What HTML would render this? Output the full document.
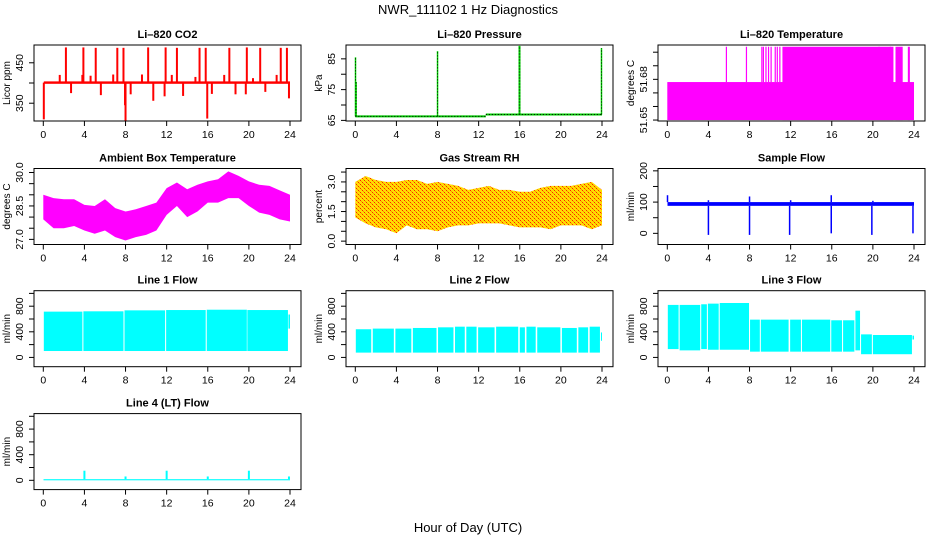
<!DOCTYPE html>
<html><head><meta charset="utf-8">
<style>
html,body{margin:0;padding:0;background:#fff;}
svg{display:block;font-family:"Liberation Sans",Arial,sans-serif;}
</style></head>
<body>
<svg id="c" width="936" height="540" viewBox="0 0 936 540">
<defs>
<pattern id="rhpat" width="4" height="4" patternUnits="userSpaceOnUse">
<rect width="4" height="4" fill="#ffdd00"/>
<rect x="0" y="0" width="1" height="1" fill="#ff2000"/>
<rect x="2" y="2" width="1" height="1" fill="#ff2000"/>
<rect x="1" y="1" width="1" height="1" fill="#ff9000"/>
<rect x="3" y="3" width="1" height="1" fill="#ff9000"/>
</pattern>
</defs>
<text x="468" y="14" text-anchor="middle" font-size="13">NWR_111102  1 Hz Diagnostics</text>
<text x="468" y="532" text-anchor="middle" font-size="13">Hour of Day (UTC)</text>
</svg>
<script>
// ---------- data ----------
var xTicks = [0,4,8,12,16,20,24];
// CO2
var co2Base = 401;
var co2SpikeHours = [0.05,1.6,2.2,2.7,3.8,3.9,4.6,5.1,5.6,6.8,7.2,7.8,7.95,8.0,8.5,9.6,10.2,10.7,11.8,11.9,12.5,13.0,13.6,14.8,15.2,15.8,15.95,16.4,17.6,18.1,18.7,19.7,19.8,20.4,21.1,21.6,22.7,23.1,23.7,23.9];
var co2SpikeVals  = [310,420,488,375,420,488,418,487,370,421,487,487,345,305,372,421,488,356,367,488,420,487,368,415,487,487,312,373,420,487,372,372,488,412,487,378,420,487,487,362];
// Pressure
var presSegStart = [0,12.7];
var presSegEnd   = [12.7,24];
var presSegVal   = [66.3,66.9];
var presSpikeHours = [0.02,0.08,8.0,15.95,16.0,23.95];
var presSpikeVals  = [85.5,77.5,87.5,89.2,89.2,88.5];
// Li-820 temperature
var tempLow = 51.65, tempMid = 51.678, tempHigh = 51.704;
var tempBlockStart = [11.2,22.2,23.4];
var tempBlockEnd   = [22.0,22.9,23.6];
var tempLineHours  = [5.75,7.7,9.2,9.35,9.6,9.85,10.1,10.5,10.7,10.95,20.6,21.7];
// Ambient box temperature (hourly envelope)
var ambHours = [0,1,2,3,4,5,6,7,8,9,10,11,12,13,14,15,16,17,18,19,20,21,22,23,24];
var ambUpper = [29.0,28.85,28.8,28.8,28.55,28.5,28.8,28.4,28.25,28.35,28.5,28.65,29.3,29.55,29.25,29.45,29.6,29.7,30.05,29.85,29.6,29.45,29.4,29.2,29.0];
var ambLower = [27.9,27.5,27.5,27.6,27.4,27.25,27.4,27.1,26.95,27.1,27.2,27.4,28.1,28.5,28.0,28.25,28.65,28.65,28.85,28.85,28.5,28.2,28.1,27.9,27.8];
// Gas stream RH
var rhHours = [0,1,2,3,4,5,6,7,8,9,10,11,12,13,14,15,16,17,18,19,20,21,22,23,24];
var rhUpper = [3.0,3.3,3.1,3.0,3.0,3.1,3.1,2.9,3.0,2.9,2.8,2.6,2.7,2.8,2.6,2.6,2.5,2.5,2.7,2.8,2.8,2.8,2.9,3.0,2.6];
var rhLower = [1.2,0.9,0.7,0.6,0.4,0.8,0.6,0.6,0.5,0.7,0.8,0.8,0.9,0.9,0.9,0.8,0.7,0.7,0.7,0.6,0.8,0.8,0.8,0.6,0.8];
// Sample flow
var sfLow = 88, sfHigh = 100;
var sfDipHours = [4.0,8.0,11.9,15.95,19.9,23.9];
var sfDipVals  = [-5,-5,-5,0,-5,0];
var sfSpikeHours = [0.02,8.0,15.95,4.0,12.0,20.0];
var sfSpikeVals  = [122,118,122,106,106,104];
// Line 1 flow
var l1Start = [0.05,3.9,7.9,11.95,15.9,19.85,23.85];
var l1End   = [3.8,7.8,11.85,15.8,19.8,23.8,24.0];
var l1Low   = [100,100,100,100,100,100,450];
var l1High  = [715,720,735,740,745,740,670];
// Line 2 flow
var l2Start = [0.05,1.7,3.9,5.6,8.05,9.7,10.8,11.95,13.7,16.0,16.65,17.7,20.1,21.7,22.8,23.9];
var l2End   = [1.55,3.75,5.45,7.9,9.55,10.65,11.8,13.55,15.85,16.5,17.55,19.95,21.55,22.65,23.8,24.0];
var l2Low   = [75,75,75,75,75,75,75,75,75,75,75,75,75,75,75,260];
var l2High  = [440,450,450,460,470,480,480,470,480,470,480,470,460,470,480,390];
// Line 3 flow
var l3Start = [0.05,1.2,3.3,3.95,5.1,8.05,9.1,11.95,13.1,15.95,17.1,18.3,18.85,20.0,23.85];
var l3End   = [1.1,3.2,3.85,5.0,7.95,9.0,11.8,13.0,15.85,17.0,18.2,18.75,19.9,23.8,24.0];
var l3Low   = [130,110,130,120,120,90,90,90,90,90,90,110,50,50,280];
var l3High  = [820,820,830,840,850,590,590,590,590,580,580,730,360,350,340];
// Line 4 flow
var l4Low = 0, l4High = 18;
var l4SpikeHours = [4.0,8.0,12.0,16.0,20.0,23.9];
var l4SpikeVals  = [150,60,150,60,150,60];

// ---------- helpers ----------
var svg = document.getElementById('c');
var NS = 'http://www.w3.org/2000/svg';
function mk(tag, attrs, parent){
  var e = document.createElementNS(NS, tag);
  for (var k in attrs) e.setAttribute(k, attrs[k]);
  (parent||svg).appendChild(e);
  return e;
}
var W = 267, H = 76;
function panel(L, T, ymin, ymax, yticks, ylabels, title, ylab, name){
  var g = mk('g', {});
  
  
  var p = {L:L, T:T, g:g,
    x: function(h){ return L + 9.3 + h * (246.7/24); },
    y: function(v){ return T + (ymax - v) / (ymax - ymin) * H; }};
  var t = mk('text', {x: L + W/2, y: T - 7, 'text-anchor':'middle', 'font-size':'11', 'font-weight':'bold'}, g);
  t.textContent = title;
  
  
  var yl = mk('text', {x: 0, y: 0, 'text-anchor':'middle', 'font-size':'10', transform:'translate('+(L-24)+','+(T+H/2)+') rotate(-90)'}, g);
  yl.textContent = ylab;
  
  
  xTicks.forEach(function(h){
    var xx = p.x(h);
    var tk = mk('line', {x1:xx, x2:xx, y1:T+H, y2:T+H+5, stroke:'#000'}, g);
    
    
    var tl = mk('text', {x:xx, y:T+H+17, 'text-anchor':'middle', 'font-size':'10.5'}, g);
    tl.textContent = h;
    
    
  });
  yticks.forEach(function(v, i){
    var yy = p.y(v);
    var tk = mk('line', {x1:L-5, x2:L, y1:yy, y2:yy, stroke:'#000'}, g);
    
    
    if (ylabels[i]) {
      var tl = mk('text', {x:0, y:0, 'text-anchor':'middle', 'font-size':'10.5', transform:'translate('+(L-11)+','+yy+') rotate(-90)'}, g);
      tl.textContent = ylabels[i];
      
      
    }
  });
  p.data = mk('g', {}, g);
  
  
  return p;
}
function finishBox(p, name){
  var b = mk('rect', {x:p.L, y:p.T, width:W, height:H, fill:'none', stroke:'#000', 'stroke-width':'1'}, p.g);
  
  
}
function vline(p, h, v1, v2, color, w, name){
  var l = mk('line', {x1:p.x(h), x2:p.x(h), y1:p.y(v1), y2:p.y(v2), stroke:color, 'stroke-width':w||1.5}, p.data);
  
  
  return l;
}
function band(p, h1, h2, lo, hi, color, name){
  var r = mk('rect', {x:p.x(h1), y:p.y(hi), width:Math.max(0.5,p.x(h2)-p.x(h1)), height:p.y(lo)-p.y(hi), fill:color}, p.data);
  
  
}
function envelope(p, hs, up, lo, fill, name){
  var pts = [];
  for (var i=0;i<hs.length;i++) pts.push(p.x(hs[i])+','+p.y(up[i]));
  for (var j=hs.length-1;j>=0;j--) pts.push(p.x(hs[j])+','+p.y(lo[j]));
  var pg = mk('polygon', {points:pts.join(' '), fill:fill}, p.data);
  
  
}
var cols = [34, 346, 658], rows = [45, 168.5, 290.7, 413.6];
var flowTicks = [0,200,400,600,800,1000], flowLabels = ['0','','400','','800',''];

// ---------- CO2 ----------
var p = panel(cols[0], rows[0], 306, 494, [350,400,450], ['350','','450'], 'Li\u2013820 CO2', 'Licor ppm', 'co2');
band(p, 0.05, 24, co2Base-3, co2Base+3, '#ff0000', 'co2-baseline');
co2SpikeHours.forEach(function(h,i){ vline(p, h, co2Base, co2SpikeVals[i], '#ff0000', 2, 'co2-spike'); });
finishBox(p, 'co2');

// ---------- Pressure ----------
p = panel(cols[1], rows[0], 64.8, 89.5, [65,70,75,80,85], ['65','','75','','85'], 'Li\u2013820 Pressure', 'kPa', 'pressure');
presSegStart.forEach(function(s,i){
  var l = mk('line', {x1:p.x(s), x2:p.x(presSegEnd[i]), y1:p.y(presSegVal[i]), y2:p.y(presSegVal[i]), stroke:'#00cc00', 'stroke-width':2}, p.data);
  
  
  var d = mk('line', {x1:p.x(s), x2:p.x(presSegEnd[i]), y1:p.y(presSegVal[i]), y2:p.y(presSegVal[i]), stroke:'#000', 'stroke-width':1, 'stroke-dasharray':'1,2'}, p.data);
  
  
});
presSpikeHours.forEach(function(h,i){
  var base = h < 12.7 ? presSegVal[0] : presSegVal[1];
  vline(p, h, base, presSpikeVals[i], '#00dd00', 1.5, 'pressure-spike');
  var d = vline(p, h, base, presSpikeVals[i], '#000', 1, 'pressure-spike-dots');
  d.setAttribute('stroke-dasharray','1,2');
});
finishBox(p, 'pressure');

// ---------- Li-820 temperature ----------
p = panel(cols[2], rows[0], 51.6493, 51.7053, [51.65,51.66,51.67,51.68,51.69,51.70], ['51.65','','','51.68','',''], 'Li\u2013820 Temperature', 'degrees C', 'li820-temp');
band(p, 0, 24, tempLow, tempMid, '#ff00ff', 'temp-low-band');
tempBlockStart.forEach(function(s,i){ band(p, s, tempBlockEnd[i], tempLow, tempHigh, '#ff00ff', 'temp-high-block'); });
tempLineHours.forEach(function(h){ vline(p, h, tempMid, tempHigh, '#ff00ff', 1.2, 'temp-high-line'); });
finishBox(p, 'li820-temp');

// ---------- Ambient ----------
p = panel(cols[0], rows[1], 26.77, 30.18, [27.0,27.5,28.0,28.5,29.0,29.5,30.0], ['27.0','','','28.5','','','30.0'], 'Ambient Box Temperature', 'degrees C', 'ambient-temp');
envelope(p, ambHours, ambUpper, ambLower, '#ff00ff', 'ambient-envelope');
finishBox(p, 'ambient-temp');

// ---------- RH ----------
p = panel(cols[1], rows[1], -0.17, 3.68, [0,0.5,1,1.5,2,2.5,3,3.5], ['0.0','','','1.5','','','3.0',''], 'Gas Stream RH', 'percent', 'rh');
envelope(p, rhHours, rhUpper, rhLower, 'url(#rhpat)', 'rh-envelope');
finishBox(p, 'rh');

// ---------- Sample flow ----------
p = panel(cols[2], rows[1], -35.7, 207.5, [0,50,100,150,200], ['0','','100','','200'], 'Sample Flow', 'ml/min', 'sample-flow');
band(p, 0.02, 24, sfLow, sfHigh, '#0000ff', 'sample-flow-band');
sfDipHours.forEach(function(h,i){ vline(p, h, sfLow, sfDipVals[i], '#0000ff', 1.5, 'sample-flow-dip'); });
sfSpikeHours.forEach(function(h,i){ vline(p, h, sfHigh, sfSpikeVals[i], '#0000ff', 1.5, 'sample-flow-spike'); });
finishBox(p, 'sample-flow');

// ---------- Line flows ----------
function flowPanel(col, row, title, name, st, en, lo, hi){
  var q = panel(cols[col], rows[row], -145, 1042, flowTicks, flowLabels, title, 'ml/min', name);
  st.forEach(function(s,i){ band(q, s, en[i], lo[i], hi[i], '#00ffff', name + '-segment'); });
  finishBox(q, name);
  return q;
}
flowPanel(0, 2, 'Line 1 Flow', 'line1-flow', l1Start, l1End, l1Low, l1High);
flowPanel(1, 2, 'Line 2 Flow', 'line2-flow', l2Start, l2End, l2Low, l2High);
flowPanel(2, 2, 'Line 3 Flow', 'line3-flow', l3Start, l3End, l3Low, l3High);
p = panel(cols[0], rows[3], -145, 1042, flowTicks, flowLabels, 'Line 4 (LT) Flow', 'ml/min', 'line4-flow');
band(p, 0.02, 24, l4Low, l4High, '#00ffff', 'line4-flow-band');
l4SpikeHours.forEach(function(h,i){ vline(p, h, l4High, l4SpikeVals[i], '#00ffff', 2, 'line4-flow-spike'); });
finishBox(p, 'line4-flow');
</script>
</body></html>
